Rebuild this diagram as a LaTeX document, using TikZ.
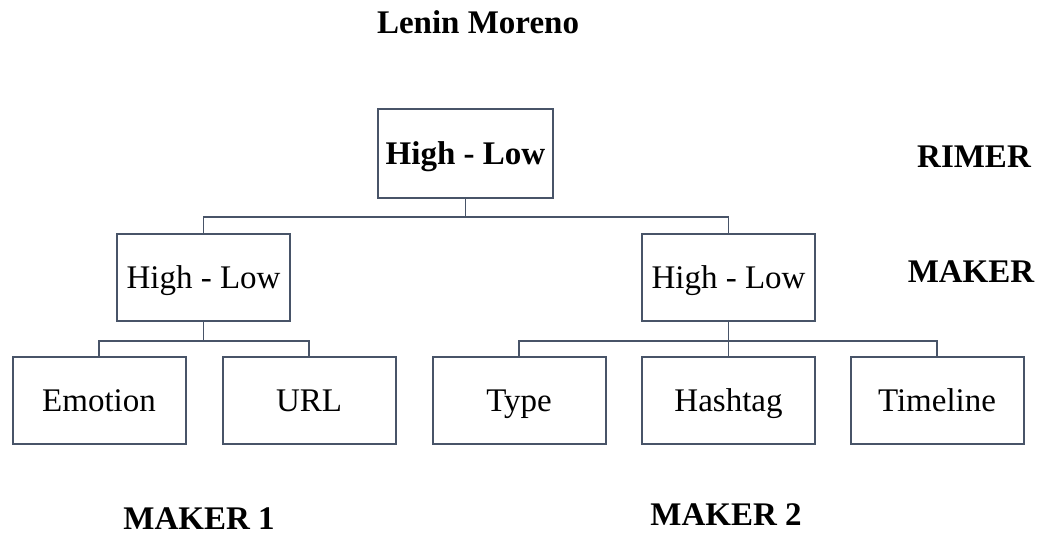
\documentclass[tikz,border=0pt]{standalone}
\usepackage{fontspec}
\setmainfont{Liberation Serif}
\usetikzlibrary{positioning}
\definecolor{linegray}{RGB}{72,84,104}

\begin{document}
\begin{tikzpicture}[
    x=1pt, y=-1pt,
    every node/.style={font=\fontsize{33}{38}\selectfont},
    box/.style={draw=linegray, line width=2pt, minimum width=173pt, minimum height=87pt, inner sep=0pt, text height=22pt, text depth=0pt, align=center},
    label/.style={font=\fontsize{33}{38}\selectfont\bfseries},
    link/.style={draw=linegray, line width=1.8pt}
]
\useasboundingbox (0,0) rectangle (1041,535);

% 标题
\node[label] (title) at (478,22) {Lenin Moreno};

% 顶层节点
\node[box, minimum width=175pt, minimum height=89pt] (top) at (465.5,153.5) {\bfseries High - Low};

% 中间节点
\node[box] (lmid) at (203.5,277.5) {High - Low};
\node[box] (rmid) at (728.5,277.5) {High - Low};

% 底层节点
\node[box] (emotion) at (99,400) {Emotion};
\node[box, right=35pt of emotion] (url) {URL};
\node[box] (type) at (519,400) {Type};
\node[box] (hashtag) at (728.5,400) {Hashtag};
\node[box] (timeline) at (937,400) {Timeline};

% 右侧标签
\node[label] (rimer) at (974,157) {RIMER};
\node[label] (maker) at (971,272) {MAKER};

% 底部标签
\node[label] (maker1) at (199,519) {MAKER 1};
\node[label] (maker2) at (726,515) {MAKER 2};

% 连接线
\draw[link] (top.south) -- ++(0,18) -| (lmid.north);
\draw[link] (top.south) -- ++(0,18) -| (rmid.north);
\draw[link] (lmid.south) -- ++(0,19) -| (emotion.north);
\draw[link] (lmid.south) -- ++(0,19) -| (url.north);
\draw[link] (rmid.south) -- ++(0,19) -| (type.north);
\draw[link] (rmid.south) -- (hashtag.north);
\draw[link] (rmid.south) -- ++(0,19) -| (timeline.north);

\end{tikzpicture}
\end{document}
